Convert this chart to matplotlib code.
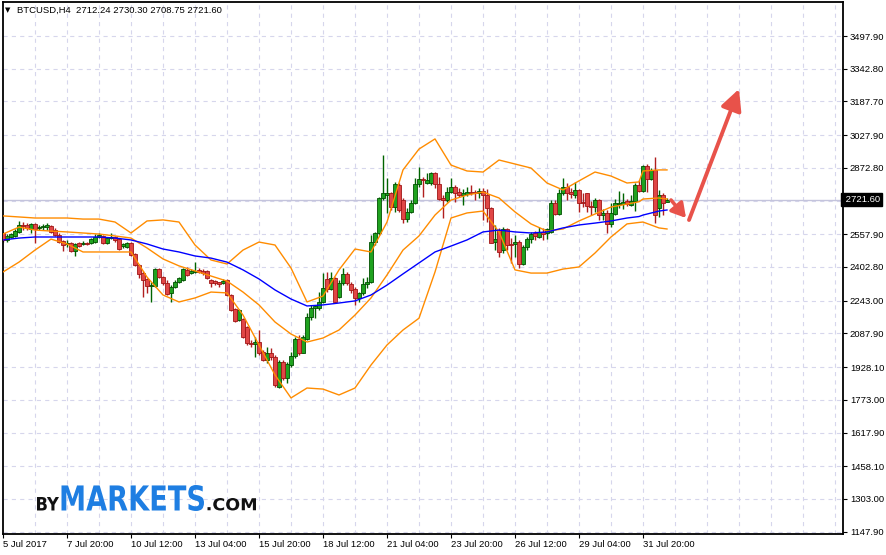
import matplotlib
matplotlib.use("Agg")
import matplotlib.pyplot as plt
import numpy as np
from matplotlib.textpath import TextPath
from matplotlib.patches import PathPatch
from matplotlib.font_manager import FontProperties
from matplotlib.transforms import Affine2D, IdentityTransform, blended_transform_factory

plt.rcParams['lines.scale_dashes'] = False

# ---------------- data ----------------
symbol_title = "BTCUSD,H4  2712.24 2730.30 2708.75 2721.60"

opens = [2562, 2531, 2546, 2551, 2570, 2602, 2602, 2581, 2605, 2586, 2591, 2591, 2597, 2578, 2556, 2527,
         2510, 2518, 2480, 2518, 2512, 2518, 2515, 2523, 2543, 2550, 2518, 2539, 2545, 2534, 2502, 2499,
         2518, 2464, 2412, 2376, 2344, 2315, 2313, 2392, 2354, 2329, 2278, 2310, 2333, 2341, 2389, 2373,
         2377, 2389, 2385, 2385, 2341, 2338, 2330, 2325, 2341, 2270, 2202, 2152, 2155, 2117, 2044, 2038,
         2049, 2001, 1962, 1994, 1978, 1836, 1954, 1875, 1938, 1981, 2060, 1997, 2060, 2164, 2207, 2207,
         2238, 2345, 2299, 2349, 2262, 2325, 2368, 2321, 2299, 2254, 2278, 2321, 2330, 2520, 2563, 2728,
         2744, 2752, 2689, 2792, 2721, 2630, 2665, 2705, 2795, 2820, 2799, 2799, 2847, 2795, 2728, 2721,
         2757, 2784, 2757, 2744, 2747, 2760, 2757, 2752, 2763, 2744, 2681, 2523, 2578, 2483, 2581, 2512,
         2512, 2523, 2417, 2496, 2534, 2562, 2547, 2570, 2562, 2570, 2708, 2654, 2755, 2780, 2760, 2744,
         2768, 2708, 2752, 2692, 2686, 2720, 2649, 2660, 2607, 2654, 2701, 2701, 2717, 2697, 2717, 2791,
         2765, 2882, 2818, 2863, 2681, 2744, 2712.24]
highs = [2570, 2558, 2562, 2581, 2622, 2618, 2610, 2613, 2610, 2602, 2607, 2610, 2602, 2586, 2562, 2531,
         2531, 2523, 2518, 2523, 2528, 2523, 2539, 2559, 2562, 2556, 2547, 2562, 2551, 2539, 2518, 2523,
         2523, 2470, 2418, 2384, 2352, 2330, 2398, 2398, 2362, 2341, 2318, 2341, 2354, 2398, 2404, 2392,
         2428, 2397, 2392, 2389, 2344, 2341, 2333, 2344, 2346, 2275, 2207, 2204, 2160, 2122, 2057, 2073,
         2104, 2010, 2025, 2017, 1986, 1962, 1962, 1954, 2001, 2073, 2081, 2081, 2183, 2223, 2223, 2286,
         2373, 2380, 2381, 2357, 2341, 2400, 2381, 2333, 2310, 2286, 2349, 2357, 2555, 2570, 2736, 2934,
         2823, 2760, 2804, 2799, 2728, 2681, 2721, 2826, 2878, 2831, 2847, 2852, 2852, 2831, 2744, 2784,
         2823, 2790, 2776, 2773, 2784, 2792, 2768, 2776, 2776, 2771, 2689, 2602, 2586, 2594, 2586, 2539,
         2554, 2531, 2507, 2547, 2570, 2575, 2594, 2586, 2586, 2720, 2720, 2771, 2823, 2799, 2775, 2807,
         2771, 2755, 2755, 2718, 2728, 2724, 2676, 2673, 2705, 2724, 2765, 2755, 2724, 2744, 2799, 2815,
         2886, 2891, 2871, 2926, 2768, 2755, 2730.30]
lows = [2523, 2523, 2539, 2547, 2566, 2578, 2578, 2566, 2518, 2578, 2578, 2578, 2566, 2550, 2518, 2480,
        2499, 2475, 2456, 2499, 2507, 2507, 2510, 2518, 2539, 2510, 2510, 2534, 2523, 2483, 2491, 2491,
        2456, 2406, 2349, 2259, 2281, 2238, 2310, 2349, 2318, 2270, 2238, 2302, 2325, 2336, 2361, 2368,
        2372, 2375, 2365, 2344, 2310, 2318, 2306, 2320, 2265, 2192, 2140, 2145, 2065, 2033, 2025, 1978,
        1986, 1955, 1946, 1962, 1836, 1828, 1867, 1851, 1930, 1970, 1986, 1994, 2057, 2152, 2160, 2199,
        2230, 2286, 2294, 2231, 2254, 2318, 2318, 2278, 2223, 2239, 2270, 2302, 2325, 2507, 2555, 2721,
        2657, 2673, 2665, 2665, 2610, 2615, 2657, 2700, 2784, 2736, 2795, 2792, 2776, 2721, 2637, 2713,
        2752, 2713, 2736, 2697, 2741, 2744, 2721, 2728, 2626, 2618, 2515, 2483, 2449, 2468, 2483, 2420,
        2452, 2396, 2412, 2483, 2515, 2531, 2539, 2531, 2534, 2566, 2649, 2649, 2744, 2720, 2728, 2728,
        2665, 2689, 2665, 2649, 2665, 2626, 2626, 2566, 2594, 2649, 2681, 2676, 2692, 2692, 2670, 2760,
        2760, 2760, 2815, 2610, 2641, 2649, 2708.75]
closes = [2531, 2550, 2558, 2575, 2602, 2596, 2586, 2607, 2581, 2594, 2597, 2602, 2570, 2554, 2523, 2507,
          2518, 2480, 2512, 2502, 2518, 2512, 2534, 2547, 2554, 2515, 2539, 2547, 2531, 2487, 2512, 2518,
          2460, 2412, 2370, 2341, 2313, 2318, 2392, 2354, 2329, 2277, 2310, 2333, 2349, 2392, 2365, 2385,
          2386, 2381, 2373, 2349, 2329, 2329, 2322, 2338, 2270, 2199, 2148, 2199, 2073, 2041, 2038, 2049,
          1994, 1962, 1994, 1978, 1843, 1954, 1875, 1943, 1981, 2060, 1997, 2069, 2164, 2207, 2218, 2238,
          2302, 2299, 2349, 2239, 2325, 2368, 2325, 2294, 2254, 2278, 2321, 2333, 2523, 2563, 2728, 2752,
          2752, 2689, 2795, 2673, 2630, 2665, 2705, 2795, 2820, 2815, 2815, 2847, 2795, 2725, 2721, 2757,
          2784, 2752, 2744, 2752, 2757, 2752, 2752, 2763, 2744, 2681, 2518, 2534, 2476, 2581, 2507, 2507,
          2523, 2417, 2496, 2534, 2559, 2550, 2570, 2559, 2581, 2708, 2654, 2755, 2780, 2755, 2749, 2768,
          2708, 2705, 2692, 2686, 2720, 2649, 2660, 2607, 2657, 2705, 2708, 2712, 2701, 2717, 2791, 2765,
          2882, 2818, 2863, 2649, 2744, 2708, 2721.60]

# indicator values read at every 4th bar (plus the last bars)
ind_idx = [0, 4, 8, 12, 16, 20, 24, 28, 32, 36, 40, 44, 48, 52, 56, 60, 64, 68, 72, 76, 80, 84, 88, 92,
           96, 100, 104, 108, 112, 116, 120, 124, 128, 132, 136, 140, 144, 148, 152, 156, 159, 160, 164, 166]
bb_upper = [2645, 2640, 2635, 2635, 2635, 2630, 2630, 2616, 2564, 2621, 2626, 2616, 2507, 2436, 2417, 2483,
            2521, 2507, 2398, 2237, 2265, 2389, 2488, 2474, 2616, 2863, 2962, 3010, 2886, 2858, 2853, 2910,
            2891, 2872, 2801, 2768, 2811, 2853, 2834, 2801, 2806, 2858, 2863, 2863]
bb_middle = [2559, 2592, 2578, 2573, 2569, 2564, 2559, 2550, 2540, 2493, 2441, 2408, 2384, 2360, 2336, 2284,
             2223, 2142, 2085, 2047, 2066, 2104, 2175, 2256, 2365, 2483, 2550, 2649, 2720, 2744, 2758, 2730,
             2664, 2607, 2573, 2583, 2621, 2654, 2687, 2701, 2712, 2725, 2730, 2725]
bb_lower = [2379, 2426, 2483, 2535, 2512, 2474, 2474, 2474, 2474, 2355, 2270, 2237, 2256, 2284, 2280, 2175,
            2033, 1891, 1782, 1829, 1824, 1796, 1829, 1938, 2033, 2104, 2160, 2379, 2635, 2659, 2668, 2569,
            2389, 2374, 2374, 2393, 2403, 2469, 2545, 2607, 2614, 2616, 2588, 2583]
ma_blue = [2531, 2540, 2545, 2545, 2545, 2545, 2545, 2540, 2531, 2512, 2488, 2474, 2455, 2445, 2426, 2389,
           2346, 2294, 2251, 2218, 2223, 2232, 2242, 2270, 2317, 2370, 2422, 2474, 2502, 2531, 2569, 2578,
           2569, 2564, 2569, 2588, 2602, 2611, 2621, 2635, 2642, 2649, 2668, 2673]

price_ticks = [3497.90, 3342.80, 3187.70, 3027.90, 2872.80, 2717.70, 2557.90, 2402.80, 2243.00,
               2087.90, 1928.10, 1773.00, 1617.90, 1458.10, 1303.00, 1147.90]
price_labels = ["3497.90", "3342.80", "3187.70", "3027.90", "2872.80", "", "2557.90", "2402.80", "2243.00",
                "2087.90", "1928.10", "1773.00", "1617.90", "1458.10", "1303.00", "1147.90"]
date_tick_idx = [0, 16, 32, 48, 64, 80, 96, 112, 128, 144, 160]
date_labels = ["5 Jul 2017", "7 Jul 20:00", "10 Jul 12:00", "13 Jul 04:00", "15 Jul 20:00",
               "18 Jul 12:00", "21 Jul 04:00", "23 Jul 20:00", "26 Jul 12:00", "29 Jul 04:00", "31 Jul 20:00"]
last_price = 2721.60

# ---------------- layout ----------------
W, H = 886, 555
fig = plt.figure(figsize=(W / 100, H / 100), dpi=100)
fig.patch.set_facecolor("white")
PL, PR, PB, PT = 2.5, 843.0, 534.0, 2.0       # plot frame in pixels
ax = fig.add_axes([PL / W, 1 - PB / H, (PR - PL) / W, (PB - PT) / H])

# pixel <-> data scale (4 px per bar, first bar at x=3 px; 4.741 price units per px)
def px_to_bar(x):
    return (x - 3.0) / 4.0

def py_to_price(y):
    return 3668.6 - 4.741 * y

ax.set_xlim(px_to_bar(PL), px_to_bar(PR))
ax.set_ylim(py_to_price(PB), py_to_price(PT))

FONT = ["Liberation Sans", "DejaVu Sans"]
GRID = "#d6d6ec"

# grid
for p in price_ticks:
    ax.axhline(p, color=GRID, lw=0.8, ls=(0, (3, 3)), zorder=0)
for gi in range(8, 212, 8):
    ax.axvline(gi, color=GRID, lw=0.8, ls=(0, (3, 3)), zorder=0)

# current price line
ax.axhline(last_price, color="#c4c4dc", lw=1.0, zorder=0.5)

# candles
o = np.array(opens, float); h = np.array(highs, float)
l = np.array(lows, float); c = np.array(closes, float)
idx = np.arange(len(o))
up = c >= o
min_h = 4.0
bot = np.minimum(o, c)
hgt = np.maximum(np.abs(c - o), min_h)

ax.vlines(idx[up], l[up], h[up], color="#006400", lw=1.0, zorder=2)
ax.vlines(idx[~up], l[~up], h[~up], color="#b01e1e", lw=1.0, zorder=2)
ax.bar(idx[up], hgt[up], bottom=bot[up], width=0.78, color="#1fa21f",
       edgecolor="#005000", lw=0.6, zorder=3)
ax.bar(idx[~up], hgt[~up], bottom=bot[~up], width=0.78, color="#e04646",
       edgecolor="#a01616", lw=0.6, zorder=3)

# indicators
ax.plot(ind_idx, bb_upper, color="#ff8c00", lw=1.0, zorder=4)
ax.plot(ind_idx, bb_middle, color="#ff8c00", lw=1.0, zorder=4)
ax.plot(ind_idx, bb_lower, color="#ff8c00", lw=1.0, zorder=4)
ax.plot(ind_idx, ma_blue, color="#0000ff", lw=1.0, zorder=4)

# axes styling
for s in ["left", "bottom", "right", "top"]:
    ax.spines[s].set_color("black")
    ax.spines[s].set_linewidth(1.3)
ax.yaxis.tick_right()
ax.set_yticks(price_ticks)
ax.set_yticklabels(price_labels)
ax.set_xticks(date_tick_idx)
ax.set_xticklabels(date_labels)
ax.tick_params(axis="y", direction="out", length=3, width=0.8, pad=2, labelsize=6.8, colors="black")
ax.tick_params(axis="x", direction="out", length=3, width=0.8, pad=1.5, labelsize=6.8, colors="black")
for lab in ax.get_xticklabels():
    lab.set_ha("left")
    lab.set_family(FONT)
for lab in ax.get_yticklabels():
    lab.set_family(FONT)
ax.set_facecolor("white")

# last price label box
tr = blended_transform_factory(ax.transAxes, ax.transData)
ax.text(1.0, last_price, " 2721.60", transform=tr, ha="left", va="center", fontsize=6.8,
        family=FONT, color="white", zorder=10, clip_on=False,
        bbox=dict(boxstyle="square,pad=0.2", fc="black", ec="black"))

# title
fig.text(5 / W, 1 - 10 / H, "\u25bc", fontsize=5, family=["DejaVu Sans"], va="center", ha="left")
fig.text(17 / W, 1 - 10 / H, symbol_title, fontsize=6.8, family=FONT, va="center", ha="left")

# red arrows (annotation)
arrow_col = "#e8524a"
ax.annotate("", xy=(px_to_bar(686), py_to_price(218)), xytext=(px_to_bar(671), py_to_price(200)),
            arrowprops=dict(arrowstyle="-|>,head_length=0.6,head_width=0.35", color=arrow_col, lw=2.6,
                            mutation_scale=14, shrinkA=0, shrinkB=0), zorder=8)
ax.annotate("", xy=(px_to_bar(739), py_to_price(89)), xytext=(px_to_bar(689), py_to_price(220)),
            arrowprops=dict(arrowstyle="-|>,head_length=0.7,head_width=0.35", color=arrow_col, lw=2.8,
                            mutation_scale=18, shrinkA=0, shrinkB=0), zorder=8)

# logo
def logo_text(s, x0, x1, ytop, ybot, color):
    fp = FontProperties(family="DejaVu Sans", weight="bold")
    tp = TextPath((0, 0), s, size=100, prop=fp)
    bb = tp.get_extents()
    sx = (x1 - x0) / bb.width
    sy = (ybot - ytop) / bb.height
    t = Affine2D().translate(-bb.x0, -bb.y0).scale(sx, sy).translate(x0, H - ybot)
    patch = PathPatch(t.transform_path(tp), facecolor=color, edgecolor="none",
                      transform=IdentityTransform(), zorder=20)
    fig.add_artist(patch)

logo_text("BY", 37, 59, 497, 510.5, "#111111")
logo_text("MARKETS", 61.5, 204, 485, 511, "#1e7ee2")
logo_text(".COM", 207.5, 256, 498, 510.5, "#111111")

fig.savefig("out.png", dpi=100, facecolor="white")
